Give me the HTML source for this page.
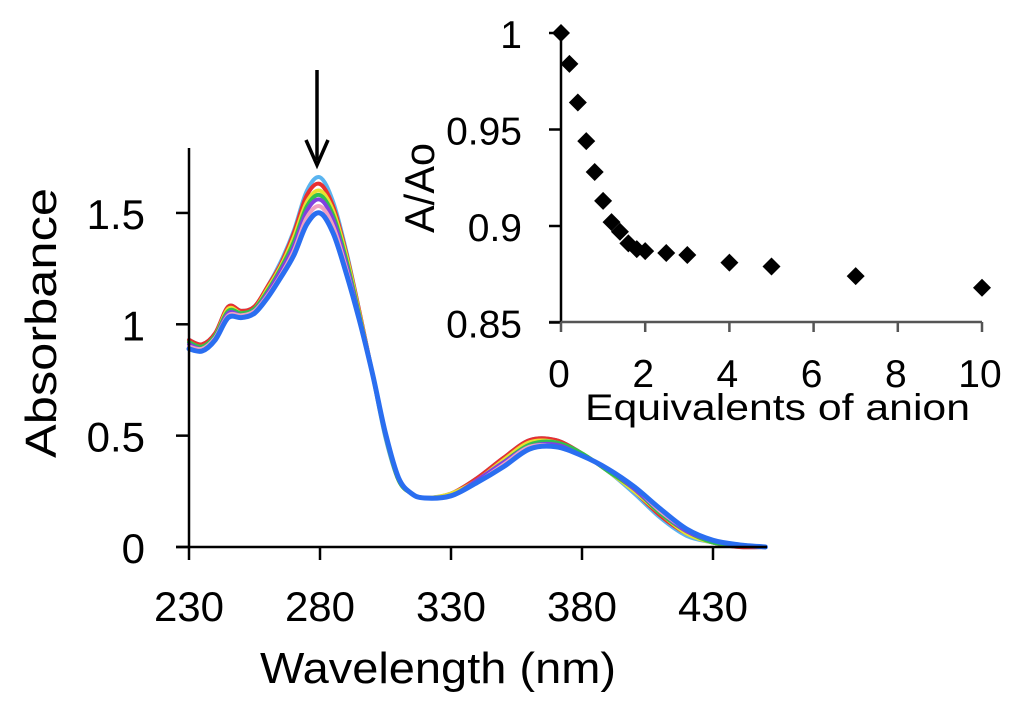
<!DOCTYPE html>
<html><head><meta charset="utf-8"><style>
body{margin:0;background:#fff}
svg{display:block;font-family:"Liberation Sans","DejaVu Sans",sans-serif}
</style></head><body>
<svg id="chart" width="1024" height="715" viewBox="0 0 1024 715">
<g id="main"></g>
<g id="inset"></g>
</svg>
<script>
const wavelengths=[230,235,240,245,250,255,260,265,270,275,280,285,290,295,300,305,310,315,320,330,340,350,360,370,380,390,400,410,420,430,440,450];
const seriesColors=["#5ab4f0","#e83030","#e8e030","#30c050","#8040e0","#f0a0c0","#2a6ef0"];
const s0=[0.93,0.91,0.96,1.08,1.06,1.08,1.17,1.28,1.42,1.60,1.66,1.55,1.33,1.06,0.78,0.49,0.30,0.24,0.22,0.24,0.31,0.40,0.48,0.48,0.42,0.34,0.24,0.13,0.05,0.02,0.0,0.0];
const s1=[0.93,0.91,0.96,1.08,1.06,1.08,1.17,1.27,1.41,1.58,1.63,1.53,1.32,1.06,0.78,0.50,0.30,0.24,0.22,0.24,0.31,0.40,0.48,0.48,0.42,0.34,0.25,0.14,0.06,0.02,0.0,0.0];
const s2=[0.92,0.90,0.95,1.07,1.05,1.07,1.16,1.26,1.39,1.55,1.60,1.51,1.31,1.05,0.78,0.50,0.30,0.24,0.22,0.24,0.30,0.39,0.47,0.47,0.42,0.34,0.25,0.15,0.06,0.02,0.01,0.0];
const s3=[0.92,0.90,0.95,1.06,1.05,1.07,1.15,1.25,1.37,1.53,1.58,1.49,1.29,1.04,0.78,0.50,0.30,0.24,0.22,0.23,0.30,0.38,0.46,0.47,0.42,0.34,0.26,0.15,0.07,0.02,0.01,0.0];
const s4=[0.91,0.89,0.94,1.05,1.04,1.06,1.14,1.24,1.35,1.51,1.56,1.47,1.27,1.03,0.78,0.51,0.31,0.24,0.22,0.23,0.30,0.38,0.45,0.46,0.41,0.35,0.26,0.16,0.07,0.03,0.01,0.0];
const s5=[0.90,0.89,0.94,1.04,1.04,1.06,1.13,1.22,1.33,1.48,1.53,1.44,1.25,1.02,0.78,0.51,0.31,0.24,0.22,0.23,0.29,0.37,0.45,0.45,0.41,0.35,0.27,0.16,0.08,0.03,0.01,0.0];
const s6=[0.89,0.88,0.93,1.03,1.03,1.05,1.12,1.21,1.31,1.45,1.50,1.41,1.23,1.02,0.78,0.51,0.31,0.24,0.22,0.23,0.29,0.36,0.44,0.45,0.41,0.35,0.27,0.17,0.08,0.03,0.01,0.0];
const allSeries=[s0,s1,s2,s3,s4,s5,s6];
const xTicks=[230,280,330,380,430];
const yTicks=[0,0.5,1,1.5];
const yTickLabels=["0","0.5","1","1.5"];
const equivalents=[0,0.2,0.4,0.6,0.8,1,1.2,1.4,1.6,1.8,2,2.5,3,4,5,7,10];
const ratio=[1.0,0.984,0.964,0.944,0.928,0.913,0.902,0.897,0.891,0.888,0.887,0.886,0.885,0.881,0.879,0.874,0.868];
const insetXTicks=[0,2,4,6,8,10];
const insetYTicks=[0.85,0.9,0.95,1];
const insetYLabels=["0.85","0.9","0.95","1"];

const NS="http://www.w3.org/2000/svg";
function mk(parent,tag,attrs,text){const e=document.createElementNS(NS,tag);for(const k in attrs)e.setAttribute(k,attrs[k]);if(text!==undefined)e.textContent=text;parent.appendChild(e);return e;}
function smooth(pts){let d="M"+pts[0][0].toFixed(1)+","+pts[0][1].toFixed(1);
  for(let i=0;i<pts.length-1;i++){const p0=pts[Math.max(0,i-1)],p1=pts[i],p2=pts[i+1],p3=pts[Math.min(pts.length-1,i+2)];
    const c1=[p1[0]+(p2[0]-p0[0])/6,p1[1]+(p2[1]-p0[1])/6],c2=[p2[0]-(p3[0]-p1[0])/6,p2[1]-(p3[1]-p1[1])/6];
    d+="C"+c1.map(v=>v.toFixed(1)).join(",")+" "+c2.map(v=>v.toFixed(1)).join(",")+" "+p2.map(v=>v.toFixed(1)).join(",");}
  return d;}

const X=l=>189+(l-230)*2.62;
const Y=a=>547-a*222.7;
const main=document.getElementById('main');
allSeries.forEach((s,i)=>{
  const pts=s.map((v,j)=>[X(wavelengths[j]),Y(v)]);
  const p=mk(main,'path',{d:smooth(pts),fill:"none",stroke:seriesColors[i],"stroke-width":i===6?5:4,"stroke-linejoin":"round","stroke-linecap":"round"});
  
  
});
const ax=mk(main,'g',{stroke:"#000","stroke-width":2.5});


mk(ax,'line',{x1:189,y1:148,x2:189,y2:547});
mk(ax,'line',{x1:176,y1:547,x2:767,y2:547});
yTicks.forEach(t=>mk(ax,'line',{x1:176,y1:Y(t),x2:189,y2:Y(t)}));
xTicks.forEach(t=>mk(ax,'line',{x1:X(t),y1:547,x2:X(t),y2:560}));
yTicks.forEach((t,i)=>{const e=mk(main,'text',{x:145,y:Y(t)+16,"text-anchor":"end","font-size":42},yTickLabels[i]);
  });
xTicks.forEach(t=>{const e=mk(main,'text',{x:X(t),y:621,"text-anchor":"middle","font-size":42},String(t));
  });
let e=mk(main,'text',{x:0,y:0,transform:"translate(56,323) rotate(-90)","text-anchor":"middle","font-size":44,textLength:270,lengthAdjust:"spacingAndGlyphs"},"Absorbance");

e=mk(main,'text',{x:260,y:683,"font-size":44,textLength:356,lengthAdjust:"spacingAndGlyphs"},"Wavelength (nm)");

const arrow=mk(main,'g',{});

mk(arrow,'line',{x1:317,y1:70,x2:317,y2:160,stroke:"#000","stroke-width":3.5});
mk(arrow,'path',{d:"M306,140 L317,165 L328,140",fill:"none",stroke:"#000","stroke-width":3.5});

const IX=v=>561+v*42.1;
const IY=v=>33+(1-v)*1930;
const inset=document.getElementById('inset');
const iax=mk(inset,'g',{stroke:"#000","stroke-width":2.5});

mk(iax,'line',{x1:561,y1:33,x2:561,y2:322});
mk(iax,'line',{x1:549,y1:322,x2:982,y2:322,stroke:"#555"});
insetYTicks.forEach(t=>mk(iax,'line',{x1:549,y1:IY(t),x2:561,y2:IY(t)}));
insetXTicks.forEach(t=>mk(iax,'line',{x1:IX(t),y1:322,x2:IX(t),y2:332,stroke:"#555"}));
equivalents.forEach((v,i)=>{
  const cx=IX(v),cy=IY(ratio[i]);
  const p=mk(inset,'path',{d:`M${cx},${cy-9} L${cx+9},${cy} L${cx},${cy+9} L${cx-9},${cy}Z`,fill:"#000"});
  
  
});
insetYTicks.forEach((t,i)=>{const e=mk(inset,'text',{x:522,y:IY(t)+15,"text-anchor":"end","font-size":39},insetYLabels[i]);
  });
insetXTicks.forEach(t=>{const e=mk(inset,'text',{x:IX(t)-2,y:387,"text-anchor":"middle","font-size":39},String(t));
  });
e=mk(inset,'text',{x:0,y:0,transform:"translate(434,188) rotate(-90)","text-anchor":"middle","font-size":42,textLength:90,lengthAdjust:"spacingAndGlyphs"},"A/Ao");

e=mk(inset,'text',{x:585,y:420,"font-size":37,textLength:385,lengthAdjust:"spacingAndGlyphs"},"Equivalents of anion");

</script>
</body></html>
